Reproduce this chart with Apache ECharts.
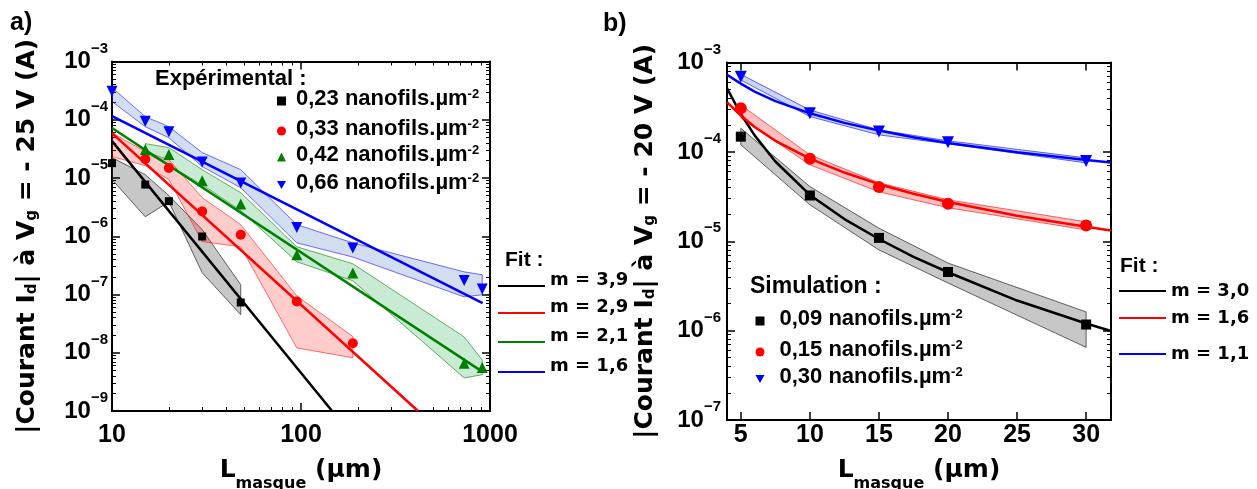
<!DOCTYPE html>
<html>
<head>
<meta charset="utf-8">
<title>Courant Id vs L masque</title>
<script src="https://cdn.jsdelivr.net/npm/echarts@6.0.0/dist/echarts.min.js"></script>
<style>html,body{margin:0;padding:0;background:#fff;}#chart{width:1257px;height:489px;}</style>
</head>
<body>
<div id="chart"></div>
<script>
// ================= Panel a) : experimental data (log-log) =================
const a_names = ['0,23 nanofils.µm-2', '0,33 nanofils.µm-2', '0,42 nanofils.µm-2', '0,66 nanofils.µm-2'];
const a_fitNames = ['a: m = 3,9', 'a: m = 2,9', 'a: m = 2,1', 'a: m = 1,6'];

const a_L_023 = [10, 15, 20, 30, 48];
const a_I_023 = [1.8e-5, 7.7e-6, 4.0e-6, 9.9e-7, 7.3e-8];
const a_up_023 = [2.24e-5, 1.14e-5, 5.0e-6, 1.3e-6, 1.47e-7];
const a_lo_023 = [9.4e-6, 2.16e-6, 3.9e-6, 2.36e-7, 4.5e-8];

const a_L_033 = [15, 20, 30, 48, 95, 188];
const a_I_033 = [2.12e-5, 1.49e-5, 2.67e-6, 1.06e-6, 7.6e-8, 1.46e-8];
const a_bandL_033 = [10, 15, 20, 30, 48, 95, 188];
const a_up_033 = [6.0e-5, 2.84e-5, 2.06e-5, 4.6e-6, 1.58e-6, 9.5e-8, 1.9e-8];
const a_lo_033 = [2.33e-5, 1.63e-5, 9.4e-6, 8.1e-7, 6.6e-7, 1.21e-8, 8.2e-9];

const a_L_042 = [15, 20, 30, 48, 95, 188, 730, 910];
const a_I_042 = [3.07e-5, 2.52e-5, 9.0e-6, 3.58e-6, 4.8e-7, 2.33e-7, 6.6e-9, 5.6e-9];
const a_up_042 = [3.89e-5, 3.32e-5, 1.39e-5, 5.6e-6, 6.6e-7, 3.37e-7, 1.87e-8, 7.5e-9];
const a_lo_042 = [2.73e-5, 1.63e-5, 7.7e-6, 2.75e-6, 3.65e-7, 1.72e-7, 3.7e-9, 4.2e-9];

const a_L_066 = [10, 15, 20, 30, 48, 95, 188, 730, 910];
const a_I_066 = [3.08e-4, 9.4e-5, 6.2e-5, 1.89e-5, 8.2e-6, 1.42e-6, 6.3e-7, 1.74e-7, 1.24e-7];
const a_up_066 = [3.57e-4, 1.13e-4, 7.6e-5, 2.73e-5, 1.39e-5, 1.58e-6, 7.7e-7, 2.45e-7, 2.18e-7];
const a_lo_066 = [2.05e-4, 7.6e-5, 4.9e-5, 1.57e-5, 6.8e-6, 7.7e-7, 4.4e-7, 9.1e-8, 9.9e-8];

// fit lines (end points)
const a_fitL_39 = [10, 146];   const a_fitI_39 = [4.3e-5, 1.0e-9];
const a_fitL_29 = [10, 416];   const a_fitI_29 = [5.9e-5, 1.0e-9];
const a_fitL_21 = [10, 914];   const a_fitI_21 = [7.2e-5, 4.7e-9];
const a_fitL_16 = [10, 914];   const a_fitI_16 = [1.15e-4, 7.1e-8];

// ================= Panel b) : simulation data (lin-log) =================
const b_names = ['0,09 nanofils.µm-2', '0,15 nanofils.µm-2', '0,30 nanofils.µm-2'];
const b_fitNames = ['b: m = 3,0', 'b: m = 1,6', 'b: m = 1,1'];
const b_xTicks = [5, 10, 15, 20, 25, 30];

const b_L = [5, 10, 15, 20, 30];
const b_I_009 = [1.48e-4, 3.25e-5, 1.09e-5, 4.53e-6, 1.17e-6];
const b_up_009 = [1.84e-4, 4.09e-5, 1.40e-5, 5.7e-6, 1.62e-6];
const b_lo_009 = [1.20e-4, 2.56e-5, 8.0e-6, 3.41e-6, 6.5e-7];
const b_I_015 = [3.08e-4, 8.36e-5, 4.04e-5, 2.63e-5, 1.50e-5];
const b_up_015 = [3.35e-4, 9.25e-5, 4.51e-5, 2.91e-5, 1.65e-5];
const b_lo_015 = [2.40e-4, 7.16e-5, 3.57e-5, 2.37e-5, 1.34e-5];
const b_I_030 = [6.93e-4, 2.70e-4, 1.69e-4, 1.28e-4, 7.9e-5];
const b_up_030 = [7.38e-4, 2.94e-4, 1.76e-4, 1.33e-4, 8.57e-5];
const b_lo_030 = [6.37e-4, 2.48e-4, 1.55e-4, 1.23e-4, 7.53e-5];

const b_fitL    = [4, 5, 6, 7.5, 10, 12.5, 15, 17.5, 20, 25, 30, 31.8];
const b_fitI_30 = [5.15e-4, 2.65e-4, 1.53e-4, 7.8e-5, 3.3e-5, 1.77e-5, 1.06e-5, 6.7e-6, 4.5e-6, 2.17e-6, 1.2e-6, 9.9e-7];
const b_fitI_16 = [3.6e-4, 2.55e-4, 1.9e-4, 1.33e-4, 8.4e-5, 5.87e-5, 4.35e-5, 3.4e-5, 2.75e-5, 1.93e-5, 1.45e-5, 1.32e-5];
const b_fitI_11 = [7.3e-4, 5.8e-4, 4.73e-4, 3.7e-4, 2.7e-4, 2.11e-4, 1.73e-4, 1.46e-4, 1.26e-4, 9.9e-5, 8.1e-5, 7.6e-5];

// ================= styling helpers =================
const FN = "'Liberation Sans', Arial, Helvetica, sans-serif";
const FD = "'DejaVu Sans', 'Liberation Sans', sans-serif";
const BLACK = '#000000', RED = '#ff0000', GREEN = '#008000', BLUE = '#0000ff';
const DOWN_TRI = 'path://M0,0L10,0L5,9Z';

const pair = (xs, ys) => xs.map((x, i) => [x, ys[i]]);

function supLabel(v) {
  const e = Math.round(Math.log10(v));
  return '{b|10}{s|\u2212' + Math.abs(e) + '}';
}
const yLabelRich = {
  b: {fontFamily: FN, fontWeight: 'bold', fontSize: 24, color: '#000'},
  s: {fontFamily: FN, fontWeight: 'bold', fontSize: 15, color: '#000', padding: [0, 0, 26, 0]}
};
const lineSt = {color: '#000', width: 2};
const tickSt = {color: '#000', width: 1.5};
const minorSt = {color: '#000', width: 1};

function logAxis(o) {
  return Object.assign({
    type: 'log', logBase: 10,
    axisLine: {show: true, onZero: false, lineStyle: lineSt},
    axisTick: {show: true, inside: true, length: 8, lineStyle: tickSt},
    minorTick: {show: true, splitNumber: 9, length: 4, lineStyle: minorSt},
    splitLine: {show: false}, minorSplitLine: {show: false},
    axisLabel: {show: false}
  }, o);
}

const xNameRich = {
  m: {fontFamily: FD, fontWeight: 'bold', fontSize: 25, color: '#000'},
  s: {fontFamily: FD, fontWeight: 'bold', fontSize: 16, color: '#000', padding: [27, 0, 0, 0]}
};
const yNameRich = {
  m: {fontFamily: FD, fontWeight: 'bold', fontSize: 25, color: '#000'},
  s: {fontFamily: FD, fontWeight: 'bold', fontSize: 15, color: '#000', padding: [10, 0, 0, 0]}
};
const xName = '{m|L}{s|masque}{m| (µm)}';
const yNameA = '{m||Courant I}{s|d}{m|| à V}{s|g}{m| = - 25 V (A)}';
const yNameB = '{m||Courant I}{s|d}{m|| à V}{s|g}{m| = - 20 V (A)}';

function band(name, xs, up, lo, xi, yi, fill, stroke) {
  return {
    type: 'custom', name: name, xAxisIndex: xi, yAxisIndex: yi, clip: true, silent: true, z: 1,
    data: xs.map((x, i) => [x, up[i], lo[i]]),
    encode: {x: 0, y: [1, 2]},
    renderItem: function (params, api) {
      if (params.dataIndex !== 0) return null;
      const pts = [];
      for (let i = 0; i < xs.length; i++) pts.push(api.coord([xs[i], up[i]]));
      for (let i = xs.length - 1; i >= 0; i--) pts.push(api.coord([xs[i], lo[i]]));
      return {type: 'polygon', shape: {points: pts}, style: {fill: fill, stroke: stroke, lineWidth: 1}};
    }
  };
}
function fit(name, xs, ys, xi, yi, color) {
  return {
    type: 'line', name: name, xAxisIndex: xi, yAxisIndex: yi, data: pair(xs, ys),
    symbol: 'none', showSymbol: false, smooth: false,
    lineStyle: {color: color, width: 2.5}, itemStyle: {color: color}, z: 3, silent: true
  };
}
function pts(name, xs, ys, xi, yi, color, symbol, size) {
  return {
    type: 'scatter', name: name, xAxisIndex: xi, yAxisIndex: yi, data: pair(xs, ys),
    symbol: symbol, symbolSize: size, itemStyle: {color: color, opacity: 1}, z: 5, silent: true
  };
}

// ---------- legends (one component per entry for exact placement) ----------
const expRich = {
  t: {fontFamily: FN, fontWeight: 'bold', fontSize: 22, color: '#000', padding: [0, 0, 4, 5]},
  s: {fontFamily: FN, fontWeight: 'bold', fontSize: 13, color: '#000', padding: [0, 0, 14, 0]}
};
const simRich = {
  t: {fontFamily: FN, fontWeight: 'bold', fontSize: 22, color: '#000', padding: [0, 0, 4, 10]},
  s: {fontFamily: FN, fontWeight: 'bold', fontSize: 13, color: '#000', padding: [0, 0, 14, 0]}
};
const fitRichA = {
  t: {fontFamily: FD, fontWeight: 'bold', fontSize: 18, color: '#000', verticalAlign: 'top'},
  p: {fontFamily: FD, fontWeight: 'bold', fontSize: 18, color: '#000', lineHeight: 29}
};
const fitRichB = {t: {fontFamily: FD, fontWeight: 'bold', fontSize: 18, color: '#000'}};
const supFmt = n => '{t|' + n.replace('-2', '') + '}{s|-2}';
const fitFmtA = n => '{t|' + n.slice(3) + '}{p| }';
const fitFmtB = n => '{t|' + n.slice(3) + '}';

function markerLegend(name, left, top, rich) {
  return {show: true, data: [name], left: left, top: top, padding: 0, selectedMode: false,
    orient: 'vertical', itemWidth: 9, itemHeight: 9, formatter: supFmt,
    textStyle: {color: '#000', rich: rich}};
}
function lineLegend(name, left, top, rich, fmt) {
  return {show: true, data: [name], left: left, top: top, padding: 0, selectedMode: false,
    orient: 'vertical', icon: 'rect', itemWidth: 47, itemHeight: 2, formatter: fmt,
    textStyle: {color: '#000', rich: rich}};
}
const expTop = [87.5, 117.5, 143.5, 171.5];
const fitATop = [271.5, 298.5, 327.5, 357.5];
const fitBTop = [282, 309, 345];
const simTop = [307.5, 338.5, 365.5];

const legends = [];
a_names.forEach((n, i) => legends.push(markerLegend(n, 277, expTop[i], expRich)));
a_fitNames.forEach((n, i) => legends.push(lineLegend(n, 498, fitATop[i], fitRichA, fitFmtA)));
b_names.forEach((n, i) => legends.push(markerLegend(n, 755.5, simTop[i], simRich)));
b_fitNames.forEach((n, i) => legends.push(lineLegend(n, 1119, fitBTop[i], fitRichB, fitFmtB)));

function label(text, left, top, size, fam) {
  return {text: text, left: left, top: top, padding: 0,
    textStyle: {fontFamily: fam || FN, fontWeight: 'bold', fontSize: size, color: '#000'}};
}

const option = {
  animation: false,
  backgroundColor: '#fff',
  title: [
    label('a)', 10, 10.5, 25),
    label('b)', 603, 11.5, 25),
    label('Expérimental :', 155, 68, 22),
    label('Fit :', 505, 249.5, 21),
    label('Fit :', 1120, 255.5, 21),
    label('Simulation :', 750, 275.5, 23)
  ],
  legend: legends,
  grid: [
    {left: 112, top: 61.5, width: 378, height: 349.5, containLabel: false, outerBoundsMode: 'none'},
    {left: 727, top: 62.5, width: 384, height: 357.5, containLabel: false, outerBoundsMode: 'none'}
  ],
  xAxis: [
    logAxis({gridIndex: 0, min: 10, max: 1000, position: 'bottom',
      axisLabel: {show: true, margin: 12, color: '#000', fontFamily: FN, fontWeight: 'bold', fontSize: 25,
        formatter: v => String(Math.round(v))},
      name: xName, nameLocation: 'middle', nameGap: 37.5, nameMoveOverlap: false,
      nameTextStyle: {color: '#000', rich: xNameRich}}),
    logAxis({gridIndex: 0, min: 10, max: 1000, position: 'top'}),
    {gridIndex: 1, type: 'value', min: 4, max: 31.8, position: 'bottom',
      axisLine: {show: true, onZero: false, lineStyle: lineSt},
      axisTick: {show: true, inside: true, length: 8, lineStyle: tickSt, customValues: b_xTicks},
      splitLine: {show: false},
      axisLabel: {show: true, customValues: b_xTicks, margin: 3, color: '#000', fontFamily: FN, fontWeight: 'bold', fontSize: 25},
      name: xName, nameLocation: 'middle', nameGap: 28.5, nameMoveOverlap: false,
      nameTextStyle: {color: '#000', rich: xNameRich}},
    {gridIndex: 1, type: 'value', min: 4, max: 31.8, position: 'top',
      axisLine: {show: true, onZero: false, lineStyle: lineSt},
      axisTick: {show: true, inside: true, length: 8, lineStyle: tickSt, customValues: b_xTicks},
      splitLine: {show: false}, axisLabel: {show: false}}
  ],
  yAxis: [
    logAxis({gridIndex: 0, min: 1e-9, max: 1e-3, position: 'left',
      axisLabel: {show: true, margin: 4, formatter: supLabel, rich: yLabelRich, color: '#000', fontFamily: FN, fontWeight: 'bold', fontSize: 24},
      name: yNameA, nameLocation: 'middle', nameRotate: 90, nameGap: 72.5, nameMoveOverlap: false,
      nameTextStyle: {color: '#000', rich: yNameRich}}),
    logAxis({gridIndex: 0, min: 1e-9, max: 1e-3, position: 'right'}),
    logAxis({gridIndex: 1, min: 1e-7, max: 1e-3, position: 'left',
      axisLabel: {show: true, margin: 6, formatter: supLabel, rich: yLabelRich, color: '#000', fontFamily: FN, fontWeight: 'bold', fontSize: 24},
      name: yNameB, nameLocation: 'middle', nameRotate: 90, nameGap: 69.5, nameMoveOverlap: false,
      nameTextStyle: {color: '#000', rich: yNameRich}}),
    logAxis({gridIndex: 1, min: 1e-7, max: 1e-3, position: 'right'})
  ],
  series: [
    // ---- panel a: bands ----
    band('band 0,23', a_L_023, a_up_023, a_lo_023, 0, 0, 'rgba(0,0,0,0.22)', 'rgba(60,60,60,0.8)'),
    band('band 0,33', a_bandL_033, a_up_033, a_lo_033, 0, 0, 'rgba(255,0,0,0.2)', 'rgba(255,0,0,0.55)'),
    band('band 0,42', a_L_042, a_up_042, a_lo_042, 0, 0, 'rgba(40,170,80,0.25)', 'rgba(0,128,0,0.6)'),
    band('band 0,66', a_L_066, a_up_066, a_lo_066, 0, 0, 'rgba(75,120,195,0.25)', 'rgba(0,0,255,0.55)'),
    // ---- panel a: fits ----
    fit(a_fitNames[0], a_fitL_39, a_fitI_39, 0, 0, BLACK),
    fit(a_fitNames[1], a_fitL_29, a_fitI_29, 0, 0, RED),
    fit(a_fitNames[2], a_fitL_21, a_fitI_21, 0, 0, GREEN),
    fit(a_fitNames[3], a_fitL_16, a_fitI_16, 0, 0, BLUE),
    // ---- panel a: points ----
    pts(a_names[0], a_L_023, a_I_023, 0, 0, BLACK, 'rect', 8),
    pts(a_names[1], a_L_033, a_I_033, 0, 0, RED, 'circle', 10),
    pts(a_names[2], a_L_042, a_I_042, 0, 0, GREEN, 'triangle', 11),
    pts(a_names[3], a_L_066, a_I_066, 0, 0, BLUE, DOWN_TRI, 11),
    // ---- panel b: bands ----
    band('band 0,09', b_L, b_up_009, b_lo_009, 2, 2, 'rgba(0,0,0,0.22)', 'rgba(60,60,60,0.8)'),
    band('band 0,15', b_L, b_up_015, b_lo_015, 2, 2, 'rgba(255,0,0,0.25)', 'rgba(255,0,0,0.6)'),
    band('band 0,30', b_L, b_up_030, b_lo_030, 2, 2, 'rgba(75,120,195,0.3)', 'rgba(0,0,255,0.6)'),
    // ---- panel b: fits ----
    fit(b_fitNames[0], b_fitL, b_fitI_30, 2, 2, BLACK),
    fit(b_fitNames[1], b_fitL, b_fitI_16, 2, 2, RED),
    fit(b_fitNames[2], b_fitL, b_fitI_11, 2, 2, BLUE),
    // ---- panel b: points ----
    pts(b_names[0], b_L, b_I_009, 2, 2, BLACK, 'rect', 10),
    pts(b_names[1], b_L, b_I_015, 2, 2, RED, 'circle', 12),
    pts(b_names[2], b_L, b_I_030, 2, 2, BLUE, DOWN_TRI, 12)
  ]
};

const chart = echarts.init(document.getElementById('chart'), null, {renderer: 'canvas', width: 1257, height: 489});
chart.setOption(option);
</script>
</body>
</html>
